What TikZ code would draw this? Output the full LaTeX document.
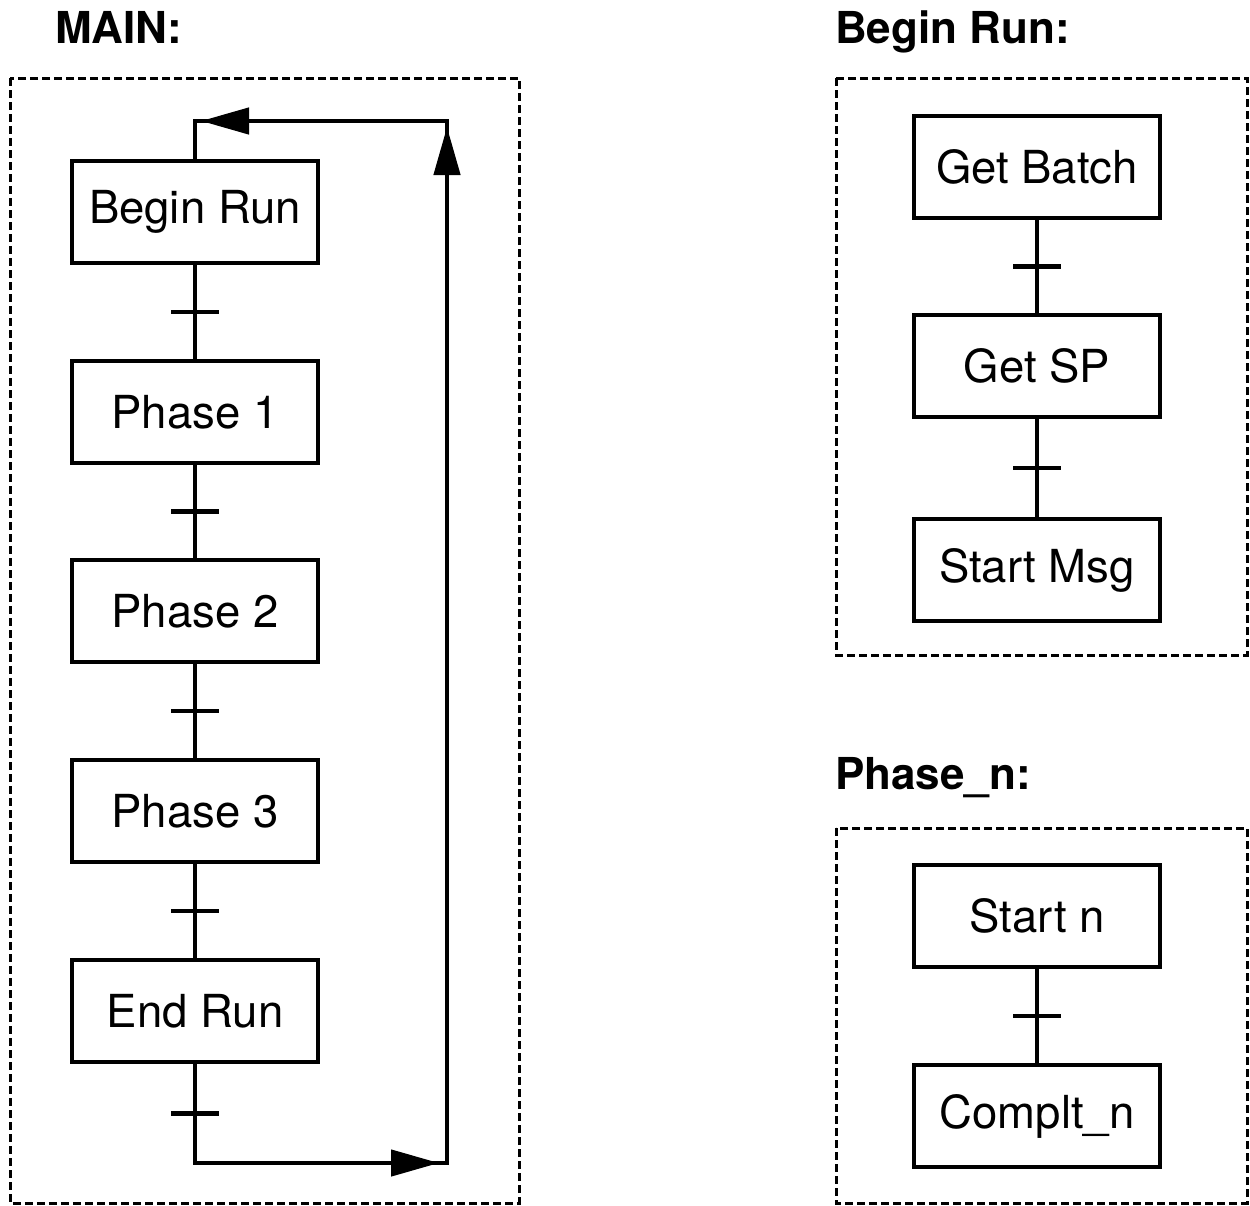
\documentclass[tikz,border=0pt]{standalone}
\usepackage{fontspec}
\setmainfont{TeX Gyre Heros}
\usetikzlibrary{arrows.meta,calc}
\begin{document}
\begin{tikzpicture}[x=1pt,y=-1pt,
  stepbox/.style={draw, line width=4.5pt, rectangle, minimum width=246pt, minimum height=102pt, inner sep=0pt, font=\fontsize{45.5}{50}\selectfont},
  title/.style={anchor=base west, inner sep=0pt, font=\fontsize{44}{50}\selectfont\bfseries},
  frame/.style={draw, line width=3pt, dash pattern=on 8pt off 4pt},
  conn/.style={line width=4.5pt},
  arr/.style={line width=4.5pt, -{Triangle[length=48pt,width=26pt]}}]
\useasboundingbox (0,0) rectangle (1250,1205);
% titles
\node[title] (tmain) at (55,43) {MAIN:};
\node[title] (tbegin) at (835,43) {Begin Run:};
\node[title] (tphase) at (835,789) {Phase\_n:};
% frames
\draw[frame] (10,78) rectangle (519,1203);
\draw[frame] (836,78) rectangle (1247,655);
\draw[frame] (836,828) rectangle (1247,1203);
% main boxes
\node[stepbox] (br) at (195,212) {Begin Run};
\node[stepbox] (p1) at (195,412) {Phase 1};
\node[stepbox] (p2) at (195,611) {Phase 2};
\node[stepbox] (p3) at (195,811) {Phase 3};
\node[stepbox] (er) at (195,1011) {End Run};
% right boxes
\node[stepbox] (gb) at (1037,167) {Get Batch};
\node[stepbox] (gs) at (1037,366) {Get SP};
\node[stepbox] (sm) at (1037,570) {Start Msg};
\node[stepbox] (sn) at (1037,916) {Start n};
\node[stepbox] (cn) at (1037,1116) {Complt\_n};
% connectors with ticks
\foreach \a/\b in {br/p1,p1/p2,p2/p3,p3/er,gb/gs,gs/sm,sn/cn}{
  \draw[conn] (\a.south) -- (\b.north) coordinate[midway] (m\a);
  \draw[conn] ([xshift=-24pt]m\a) -- ([xshift=24pt]m\a);
}
% loop
\coordinate (bl) at (195,1163);
\coordinate (brc) at (447,1163);
\coordinate (tr) at (447,121);
\coordinate (tl) at (195,121);
\draw[conn, line join=miter] (er.south) -- (bl) -- (brc) -- (tr) -- (tl) -- (br.north);
\path (er.south) -- (bl) coordinate[midway] (mer);
\draw[conn] ([xshift=-24pt]mer) -- ([xshift=24pt]mer);
\draw[arr] (bl) -- ([xshift=-8pt]brc);
\draw[arr] (brc) -- ([yshift=-6pt]tr);
\draw[arr] (tr) -- ([xshift=6pt]tl);
\end{tikzpicture}
\end{document}
